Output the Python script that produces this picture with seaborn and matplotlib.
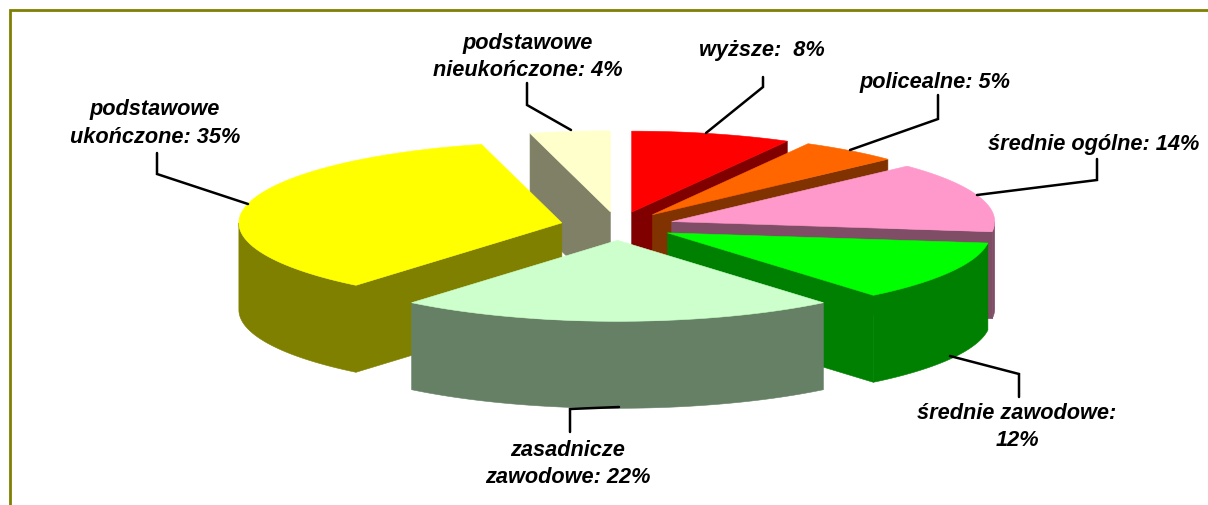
import numpy as np
import pandas as pd
import seaborn as sns
import matplotlib
matplotlib.use('Agg')
import matplotlib.pyplot as plt

names = ['wyższe', 'policealne', 'średnie ogólne', 'średnie zawodowe',
         'zasadnicze zawodowe', 'podstawowe ukończone', 'podstawowe nieukończone']
shares = [8, 5, 14, 12, 22, 35, 4]
label_texts = ['wyższe:  8%', 'policealne: 5%', 'średnie ogólne: 14%', 'średnie zawodowe:\n12%',
               'zasadnicze\nzawodowe: 22%', 'podstawowe\nukończone: 35%', 'podstawowe\nnieukończone: 4%']
top_colors = ['#FF0000', '#FF6600', '#FF99CC', '#00FF00', '#CCFFCC', '#FFFF00', '#FFFFCC']
side_colors = ['#800000', '#803300', '#804D66', '#008000', '#668066', '#808000', '#808066']
label_xy = [(762, 50.5), (935, 82.5), (1094, 144.5), (1017, 427), (568, 464), (155, 123.5), (528, 57)]
leaders = [[(763, 78), (763, 88), (706, 134)],
           [(938, 96), (938, 120), (850, 151)],
           [(1097, 160), (1097, 181), (977, 196)],
           [(1019, 398), (1019, 375), (950, 357)],
           [(570, 433), (570, 410), (619, 408)],
           [(157, 154), (157, 175), (248, 205)],
           [(527, 84), (527, 106), (571, 131)]]

df = pd.DataFrame({'name': names, 'share': shares, 'top': top_colors, 'side': side_colors})

cx, cy = 617.5, 227
rx, ry = 323, 81
depth = 87
explode = 57

# angles run clockwise from the top of the pie
df['start'] = df['share'].cumsum().shift(fill_value=0) * 3.6
df['end'] = df['start'] + df['share'] * 3.6


def point(ax0, ay0, deg, rad=1.0):
    t = np.radians(deg)
    return ax0 + rad * rx * np.sin(t), ay0 - rad * ry * np.cos(t)


def arc(ax0, ay0, a, b):
    deg = np.linspace(a, b, 80)
    xs, ys = point(ax0, ay0, deg)
    return np.column_stack([xs, ys])


def extrude(ax, pts, color):
    pts = np.asarray(pts)
    low = pts[::-1] + [0, depth]
    ax.fill(*np.vstack([pts, low]).T, color=color, lw=0.4)


def draw_slice(ax, row):
    mid = np.radians((row.start + row.end) / 2)
    x0 = cx + explode * np.sin(mid)
    y0 = cy - explode * ry / rx * np.cos(mid)
    if np.sin(np.radians(row.start)) < 0:
        extrude(ax, [(x0, y0), point(x0, y0, row.start)], row.side)
    if np.sin(np.radians(row.end)) > 0:
        extrude(ax, [(x0, y0), point(x0, y0, row.end)], row.side)
    a, b = max(row.start, 90), min(row.end, 270)
    if a < b:
        extrude(ax, arc(x0, y0, a, b), row.side)
    outline = np.vstack([[(x0, y0)], arc(x0, y0, row.start, row.end)])
    ax.fill(*outline.T, color=row.top, lw=0.4)


sns.set_theme(style='white')
plt.rcParams['font.family'] = ['Liberation Sans', 'DejaVu Sans']

fig = plt.figure(figsize=(12.08, 5.06), dpi=100)
ax = fig.add_axes([0, 0, 1, 1])
ax.set_xlim(0, 1208)
ax.set_ylim(506, 0)
ax.axis('off')

# frame, only top and left are in view
ax.plot([10, 10, 1208], [506, 11, 11], color='#808000', lw=2, solid_joinstyle='miter')

# back slices first, front ones over them
for i in [6, 0, 1, 2, 3, 5, 4]:
    draw_slice(ax, df.iloc[i])

for path in leaders:
    xs, ys = zip(*path)
    ax.plot(xs, ys, color='black', lw=1.8, solid_joinstyle='miter')

for text, (x, y) in zip(label_texts, label_xy):
    ax.text(x, y, text, ha='center', va='center', fontsize=15.7, fontweight='bold',
            fontstyle='italic', color='black', linespacing=1.4)

fig.savefig('out.png', dpi=100)
plt.close(fig)
